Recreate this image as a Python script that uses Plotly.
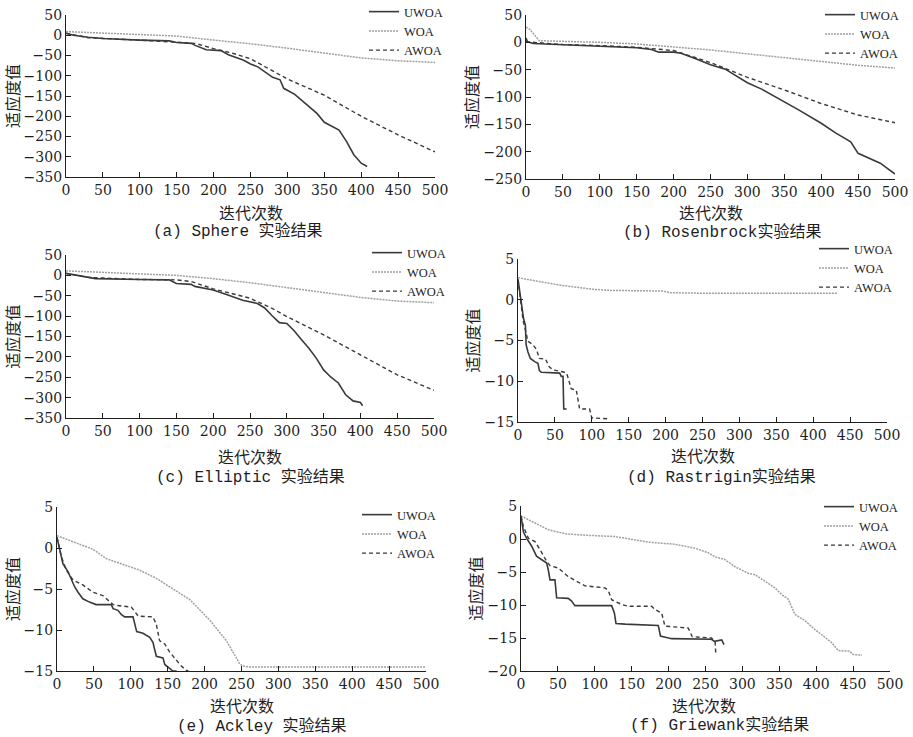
import plotly.graph_objects as go

# ---------------- data ----------------
series_names = ["UWOA", "WOA", "AWOA"]

# (a) Sphere
sphere_uwoa_x = [0, 10, 30, 50, 100, 140, 150, 170, 175, 190, 210, 220, 240, 250, 260, 270, 280, 290, 295, 310, 320, 340, 350, 370, 380, 390, 400, 408]
sphere_uwoa_y = [5, 0, -5, -8, -12, -14, -18, -20, -25, -36, -38, -48, -61, -71, -78, -90, -104, -110, -131, -146, -161, -193, -215, -234, -262, -295, -316, -324]
sphere_woa_x = [0, 50, 100, 150, 200, 250, 300, 350, 400, 450, 500]
sphere_woa_y = [9, 5, 2, -2, -12, -21, -32, -44, -56, -63, -67]
sphere_awoa_x = [0, 30, 100, 150, 175, 200, 225, 250, 270, 300, 350, 400, 450, 500]
sphere_awoa_y = [5, -6, -12, -18, -20, -33, -44, -58, -78, -108, -148, -200, -246, -288]

# (b) Rosenbrock
rosen_uwoa_x = [0, 2, 10, 50, 100, 150, 170, 180, 200, 210, 230, 250, 270, 280, 300, 320, 350, 370, 400, 420, 440, 450, 480, 500]
rosen_uwoa_y = [8, 1, -2, -4, -7, -10, -13, -18, -18, -20, -30, -41, -49, -57, -74, -86, -108, -124, -148, -166, -182, -203, -221, -241]
rosen_woa_x = [0, 5, 18, 50, 100, 150, 200, 250, 300, 350, 400, 450, 500]
rosen_woa_y = [28, 24, 3, 2, 0, -3, -8, -14, -21, -28, -35, -42, -47]
rosen_awoa_x = [0, 50, 100, 150, 200, 250, 300, 350, 400, 450, 500]
rosen_awoa_y = [1, -4, -6, -9, -15, -37, -64, -87, -112, -133, -147]

# (c) Elliptic
ellip_uwoa_x = [0, 40, 100, 140, 150, 170, 175, 200, 220, 240, 260, 270, 280, 290, 300, 310, 320, 330, 340, 350, 360, 370, 380, 390, 400, 403]
ellip_uwoa_y = [5, -8, -10, -11, -20, -22, -27, -36, -48, -61, -69, -80, -99, -116, -118, -136, -158, -179, -203, -232, -250, -264, -293, -308, -312, -320]
ellip_woa_x = [0, 50, 100, 150, 200, 250, 300, 350, 400, 450, 500]
ellip_woa_y = [11, 7, 4, 0, -8, -18, -30, -42, -54, -63, -67]
ellip_awoa_x = [0, 30, 100, 150, 170, 200, 250, 280, 300, 350, 400, 450, 500]
ellip_awoa_y = [5, -5, -10, -11, -15, -33, -56, -81, -101, -146, -195, -244, -282]

# (d) Rastrigin
rast_uwoa_x = [0, 4.5, 7.7, 10, 11, 13.5, 16.7, 22.6, 27, 29, 31.6, 56.5, 58.7, 61, 62, 66]
rast_uwoa_y = [2.5, -0.2, -2.4, -3.1, -5.5, -6.4, -7.2, -7.6, -7.8, -8.7, -8.9, -9.0, -9.4, -9.4, -13.4, -13.4]
rast_woa_x = [0, 34, 56, 100, 124, 196, 205, 250, 300, 350, 433]
rast_woa_y = [2.7, 2.2, 1.8, 1.3, 1.15, 1.07, 0.87, 0.8, 0.8, 0.8, 0.8]
rast_awoa_x = [0, 7, 9, 13.5, 20, 25, 29, 37.5, 42, 47, 59, 66, 72, 79, 83.5, 97, 100, 122, 123]
rast_awoa_y = [2.5, -2.6, -3.3, -5.1, -5.5, -6.1, -7.2, -7.3, -8.2, -8.6, -8.8, -9.0, -10.9, -11.1, -13.4, -13.4, -14.5, -14.6, -14.8]

# (e) Ackley
ack_uwoa_x = [0, 3.6, 8, 15, 19.4, 24, 28.5, 35, 44, 53, 73.6, 76, 82.6, 87, 91.7, 103, 108, 116.5, 125.6, 130, 134.6, 143.6, 146, 150.4, 155, 157, 162]
ack_uwoa_y = [1.3, -0.25, -1.9, -2.9, -3.9, -4.75, -5.4, -6.2, -6.6, -6.9, -6.9, -7.4, -7.6, -8.1, -8.4, -8.4, -10.2, -10.4, -10.9, -11.5, -13.2, -13.4, -14.2, -14.5, -14.8, -15, -15]
ack_woa_x = [0, 48.8, 66.8, 112, 134.6, 180, 207, 229.5, 247.5, 252, 261, 300, 400, 500]
ack_woa_y = [1.5, -0.16, -1.3, -2.7, -3.7, -6.3, -8.8, -11.3, -14.1, -14.4, -14.5, -14.5, -14.5, -14.5]
ack_awoa_x = [0, 6, 12.6, 21.7, 26, 35, 48.8, 62, 76, 80, 100.7, 110, 130, 134.6, 139, 146, 152.7, 159.4, 168.5, 175, 178]
ack_awoa_y = [1.3, -1.1, -2.7, -3.9, -4.1, -4.5, -5.4, -5.8, -6.9, -7.0, -7.2, -8.3, -8.4, -9.3, -11.3, -11.7, -12.7, -13.4, -14.4, -14.9, -15]

# (f) Griewank
grie_uwoa_x = [0, 3.2, 7.7, 14.5, 21, 28, 34.8, 37, 39.3, 46, 48.3, 64, 68.6, 73, 122.8, 126.5, 128.7, 141, 186, 189, 204, 258, 262, 272, 275]
grie_uwoa_y = [3.5, 1.1, 0.1, -1.1, -2.6, -3.2, -3.65, -4.7, -6.2, -6.2, -8.9, -9.0, -9.4, -10.1, -10.1, -11.2, -12.8, -12.9, -13.1, -14.7, -15.1, -15.2, -15.5, -15.3, -16.0]
grie_woa_x = [0, 19, 37, 59.6, 82, 127, 150, 172.5, 208.7, 235.8, 254, 262.9, 276, 290, 308, 317, 330.6, 344, 353, 362, 371, 385, 398, 420, 430, 445, 450, 462]
grie_woa_y = [3.5, 2.4, 1.4, 0.8, 0.6, 0.37, -0.03, -0.48, -0.8, -1.4, -2.1, -2.7, -3.1, -4.2, -5.2, -5.4, -6.4, -7.4, -8.4, -9.1, -11.4, -12.4, -13.7, -15.6, -16.9, -17.0, -17.5, -17.6]
grie_awoa_x = [0, 3.2, 10, 19, 25.7, 34.8, 39.3, 50.6, 64, 80, 86.7, 113.8, 118.3, 122.8, 136, 145, 177, 181.6, 190.6, 195, 226.7, 232, 258, 263, 264]
grie_awoa_y = [3.5, 1.9, 0.1, -0.4, -1.6, -3.4, -4.05, -4.4, -5.7, -6.7, -7.1, -7.4, -7.8, -9.2, -9.9, -10.2, -10.2, -10.7, -11.2, -13.2, -13.5, -14.8, -15.0, -15.5, -17.5]

captions = ["(a) Sphere 实验结果", "(b) Rosenbrock实验结果", "(c) Elliptic 实验结果",
            "(d) Rastrigin实验结果", "(e) Ackley 实验结果", "(f) Griewank实验结果"]
x_title = "迭代次数"
y_title = "适应度值"
y_ranges = [[-350, 50], [-250, 50], [-350, 50], [-15, 5], [-15, 5], [-20, 5]]
y_dticks = [50, 50, 50, 5, 5, 5]
x_range = [0, 500]
x_dtick = 50

panel_data = [
    [(sphere_uwoa_x, sphere_uwoa_y), (sphere_woa_x, sphere_woa_y), (sphere_awoa_x, sphere_awoa_y)],
    [(rosen_uwoa_x, rosen_uwoa_y), (rosen_woa_x, rosen_woa_y), (rosen_awoa_x, rosen_awoa_y)],
    [(ellip_uwoa_x, ellip_uwoa_y), (ellip_woa_x, ellip_woa_y), (ellip_awoa_x, ellip_awoa_y)],
    [(rast_uwoa_x, rast_uwoa_y), (rast_woa_x, rast_woa_y), (rast_awoa_x, rast_awoa_y)],
    [(ack_uwoa_x, ack_uwoa_y), (ack_woa_x, ack_woa_y), (ack_awoa_x, ack_awoa_y)],
    [(grie_uwoa_x, grie_uwoa_y), (grie_woa_x, grie_woa_y), (grie_awoa_x, grie_awoa_y)],
]

# ---------------- layout geometry (pixels) ----------------
W, H = 913, 737
# plot boxes: left, right, top, bottom
boxes = [(66, 435, 15, 177), (526, 895, 15, 179),
         (66, 434, 255, 418), (518, 887, 259, 422),
         (57, 426, 507, 671), (521, 890, 506, 671)]
xtitle_pos = [(251, 212), (711, 212), (250, 456), (703, 455), (242, 705), (704, 705)]
caption_pos = [(238, 231), (722, 232), (250, 477), (721, 477), (262, 726), (719, 725)]
legend_pos = [(364, -3), (820, 0), (367, 238), (814, 234), (357, 500), (819, 492)]

styles = [dict(color="#3a3a3a", width=1.6, dash="solid"),
          dict(color="#a0a0a0", width=1.5, dash="2px,1px"),
          dict(color="#3a3a3a", width=1.4, dash="4px,3px")]

def px_x(p):
    return p / W

def px_y(p):
    return 1 - p / H

fig = go.Figure()
layout = dict(width=W, height=H, margin=dict(l=0, r=0, t=0, b=0, autoexpand=False),
              paper_bgcolor="white", plot_bgcolor="white", showlegend=True)
annotations = []
tick_font = dict(family="DejaVu Serif, Liberation Serif, serif", size=14, color="#1e1e1e")
cjk_font = dict(family="Noto Sans CJK SC", size=16, color="#1e1e1e")
cap_font = dict(family="Liberation Mono, Noto Sans CJK SC", size=16, color="#1e1e1e")

for i in range(6):
    n = i + 1
    xa = "x" if n == 1 else f"x{n}"
    ya = "y" if n == 1 else f"y{n}"
    leg = "legend" if n == 1 else f"legend{n}"
    for k, (xs, ys) in enumerate(panel_data[i]):
        fig.add_trace(go.Scatter(x=xs, y=ys, mode="lines", name=series_names[k],
                                 line=styles[k], xaxis=xa, yaxis=ya, legend=leg,
                                 hoverinfo="skip"))
    l, r, t, b = boxes[i]
    axis_common = dict(showline=True, linecolor="#1e1e1e", linewidth=1.3,
                       ticks="inside", ticklen=5, tickwidth=1.2, tickcolor="#1e1e1e",
                       showgrid=False, zeroline=False, mirror=False,
                       tickfont=tick_font, automargin=False)
    layout["xaxis" if n == 1 else f"xaxis{n}"] = dict(
        domain=[px_x(l), px_x(r)], range=x_range, dtick=x_dtick, tick0=0,
        anchor=ya, **axis_common)
    layout["yaxis" if n == 1 else f"yaxis{n}"] = dict(
        domain=[px_y(b), px_y(t)], range=y_ranges[i], dtick=y_dticks[i], tick0=0,
        anchor=xa, title=dict(text=y_title, font=cjk_font, standoff=0), **axis_common)
    lx, ly = legend_pos[i]
    layout[leg] = dict(x=px_x(lx), y=px_y(ly), xanchor="left", yanchor="top",
                       bgcolor="rgba(0,0,0,0)", borderwidth=0,
                       font=dict(family="Liberation Serif, serif", size=12.5, color="#1e1e1e"),
                       itemwidth=30, tracegroupgap=0)
    cx, cy = xtitle_pos[i]
    annotations.append(dict(text=x_title, x=px_x(cx), y=px_y(cy), xref="paper", yref="paper",
                            showarrow=False, font=cjk_font, xanchor="center", yanchor="middle"))
    cx, cy = caption_pos[i]
    annotations.append(dict(text=captions[i], x=px_x(cx), y=px_y(cy), xref="paper", yref="paper",
                            showarrow=False, font=cap_font, xanchor="center", yanchor="middle"))

layout["annotations"] = annotations
fig.update_layout(**layout)
fig.write_html("out.html", config={"displayModeBar": False},
               post_script="document.body.style.margin='0';document.body.style.overflow='hidden';")
